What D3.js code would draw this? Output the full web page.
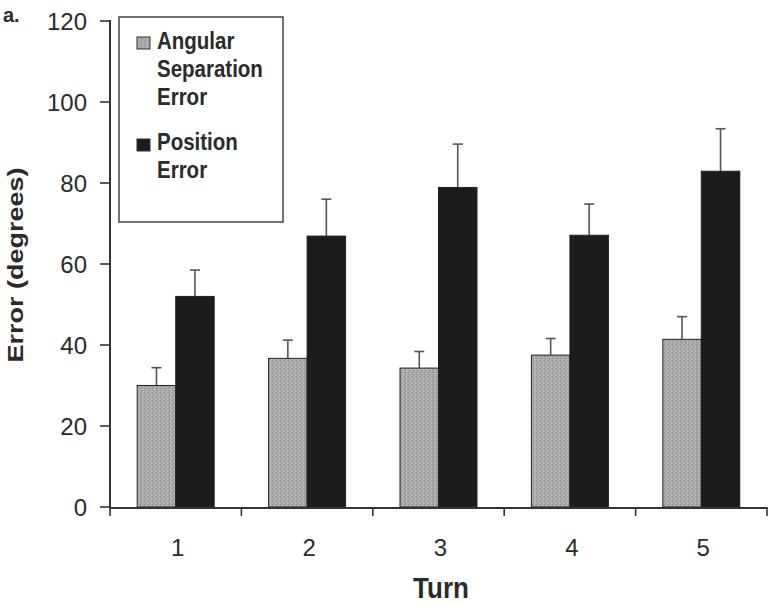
<!DOCTYPE html>
<html>
<head>
<meta charset="utf-8">
<script src="https://cdn.jsdelivr.net/npm/d3@7"></script>
<style>
  html, body { margin: 0; padding: 0; background: #ffffff; }
  svg { display: block; }
  text { font-family: "Liberation Sans", Arial, sans-serif; fill: #2a2a2a; }
</style>
</head>
<body>
<svg id="chart" width="771" height="604"></svg>
<script>
// ---- data ----
const categories = ["1", "2", "3", "4", "5"];
const seriesNames = ["Angular Separation Error", "Position Error"];
const angularValues = [30, 36.7, 34.3, 37.5, 41.4];
const angularErrors = [4.4, 4.5, 4.1, 4.1, 5.6];
const positionValues = [52, 66.9, 78.9, 67.1, 82.9];
const positionErrors = [6.5, 9.1, 10.7, 7.7, 10.5];
const yTicks = [0, 20, 40, 60, 80, 100, 120];

const svg = d3.select("#chart");
const plotLeft = 110, plotRight = 767, plotBottom = 507, plotTop = 21;

const defs = svg.append("defs");
const pat = defs.append("pattern").attr("id", "stipple")
  .attr("width", 4).attr("height", 4).attr("patternUnits", "userSpaceOnUse");
pat.append("rect").attr("width", 4).attr("height", 4).attr("fill", "#a9a9a9");
pat.append("rect").attr("x", 0).attr("y", 0).attr("width", 1).attr("height", 1).attr("fill", "#8a8a8a");
pat.append("rect").attr("x", 2).attr("y", 1).attr("width", 1).attr("height", 1).attr("fill", "#c4c4c4");
pat.append("rect").attr("x", 1).attr("y", 2).attr("width", 1).attr("height", 1).attr("fill", "#939393");
pat.append("rect").attr("x", 3).attr("y", 3).attr("width", 1).attr("height", 1).attr("fill", "#bdbdbd");

const x0 = d3.scaleBand().domain(categories).range([plotLeft, plotRight]).padding(0);
const x1 = d3.scaleBand().domain(seriesNames).range([0, x0.bandwidth()])
  .paddingInner(0).paddingOuter(0.707);
const y = d3.scaleLinear().domain([0, 120]).range([plotBottom, plotTop]);

const fills = { "Angular Separation Error": "url(#stipple)", "Position Error": "#1c1c1c" };

const rows = [];
categories.forEach((c, i) => {
  rows.push({ cat: c, s: seriesNames[0], v: angularValues[i], e: angularErrors[i] });
  rows.push({ cat: c, s: seriesNames[1], v: positionValues[i], e: positionErrors[i] });
});

// error bars
const eb = svg.append("g").attr("stroke", "#555").attr("stroke-width", 1.6);
rows.forEach(d => {
  const cx = x0(d.cat) + x1(d.s) + x1.bandwidth() / 2;
  eb.append("line").attr("x1", cx).attr("x2", cx).attr("y1", y(d.v)).attr("y2", y(d.v + d.e));
  eb.append("line").attr("x1", cx - 5).attr("x2", cx + 5).attr("y1", y(d.v + d.e)).attr("y2", y(d.v + d.e));
});

// bars
svg.append("g").selectAll("rect").data(rows).join("rect")
  .attr("x", d => x0(d.cat) + x1(d.s))
  .attr("y", d => y(d.v))
  .attr("width", x1.bandwidth())
  .attr("height", d => y(0) - y(d.v))
  .attr("fill", d => fills[d.s])
  .attr("stroke", "#222").attr("stroke-width", 1);

// y axis
const yAxis = svg.append("g");
yAxis.append("line").attr("x1", plotLeft).attr("x2", plotLeft).attr("y1", plotTop - 1).attr("y2", plotBottom + 1)
  .attr("stroke", "#333").attr("stroke-width", 2);
yTicks.forEach(t => {
  yAxis.append("line").attr("x1", plotLeft - 10).attr("x2", plotLeft).attr("y1", y(t)).attr("y2", y(t))
    .attr("stroke", "#333").attr("stroke-width", 1.6);
  yAxis.append("text").attr("x", 87).attr("y", y(t) + 8.5)
    .attr("text-anchor", "end").attr("font-size", 24).text(t);
});

// x axis
const xAxis = svg.append("g");
xAxis.append("line").attr("x1", plotLeft).attr("x2", plotRight).attr("y1", plotBottom + 1).attr("y2", plotBottom + 1)
  .attr("stroke", "#333").attr("stroke-width", 2);
const boundaries = categories.map(c => x0(c)).concat([plotRight]);
boundaries.forEach(bx => {
  xAxis.append("line").attr("x1", bx).attr("x2", bx).attr("y1", plotBottom).attr("y2", plotBottom + 9)
    .attr("stroke", "#333").attr("stroke-width", 1.6);
});
categories.forEach(c => {
  xAxis.append("text").attr("x", x0(c) + x0.bandwidth() / 2 + 2).attr("y", 556)
    .attr("text-anchor", "middle").attr("font-size", 24).text(c);
});

// axis titles
svg.append("text").attr("transform", "translate(441,598) scale(1,1.15)")
  .attr("text-anchor", "middle").attr("font-size", 26).attr("font-weight", "bold").text("Turn");
svg.append("text").attr("transform", "translate(23,265) rotate(-90)")
  .attr("text-anchor", "middle").attr("font-size", 22).attr("font-weight", "bold")
  .attr("textLength", 195).attr("lengthAdjust", "spacingAndGlyphs").text("Error (degrees)");

svg.append("text").attr("x", 3).attr("y", 22).attr("font-size", 20).attr("font-weight", "bold").text("a.");

// legend
const lg = svg.append("g");
lg.append("rect").attr("x", 119).attr("y", 17).attr("width", 164).attr("height", 205)
  .attr("fill", "#fff").attr("stroke", "#444").attr("stroke-width", 1.5);
lg.append("rect").attr("x", 137).attr("y", 37).attr("width", 13).attr("height", 12)
  .attr("fill", "url(#stipple)").attr("stroke", "#333").attr("stroke-width", 1);
lg.append("rect").attr("x", 137).attr("y", 139).attr("width", 13).attr("height", 12)
  .attr("fill", "#1c1c1c").attr("stroke", "#333").attr("stroke-width", 1);
const legendLines = [["Angular", 49], ["Separation", 77], ["Error", 105], ["Position", 150], ["Error", 178]];
legendLines.forEach(([t, by]) => {
  lg.append("text").attr("transform", `translate(157,${by}) scale(1,1.15)`)
    .attr("font-size", 20.5).attr("font-weight", "bold").text(t);
});
</script>
</body>
</html>
